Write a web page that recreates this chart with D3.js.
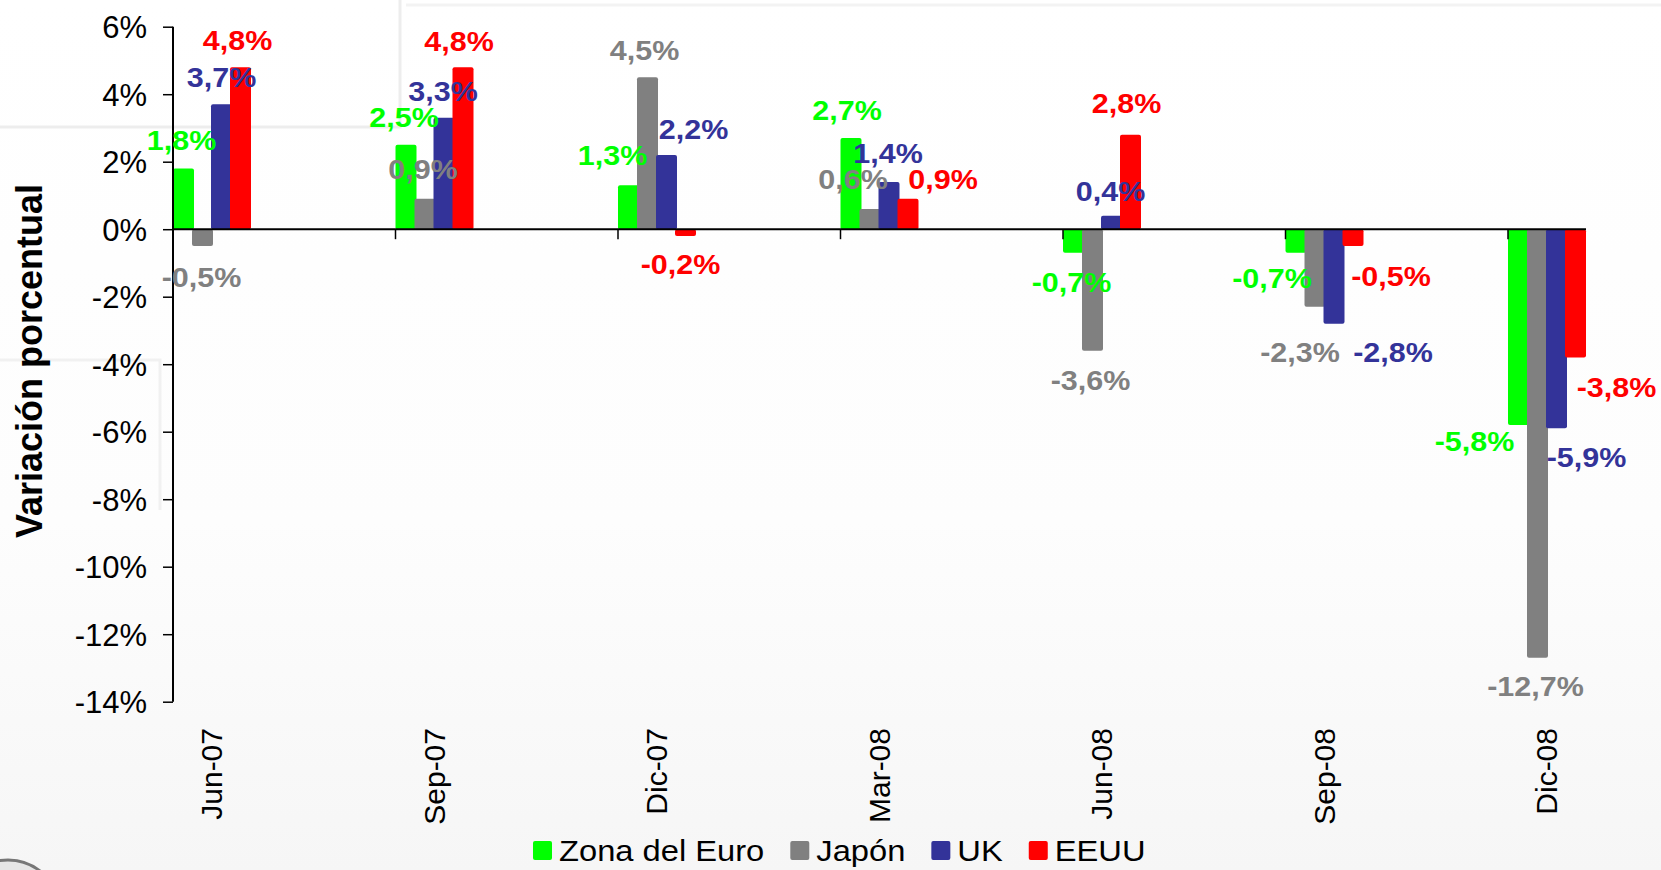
<!DOCTYPE html>
<html>
<head>
    <meta charset="utf-8">
    <title>Variación porcentual</title>
    <style>
    body { margin: 0; overflow: hidden; background: #fff; }
    text { font-family: 'Liberation Sans', Arial, sans-serif; }
    </style>
</head>
<body>

<script src="https://d3js.org/d3.v7.min.js"></script>
<script type="text/javascript">

// data
var categories = ["Jun-07", "Sep-07", "Dic-07", "Mar-08", "Jun-08", "Sep-08", "Dic-08"];
var seriesNames = ["Zona del Euro", "Japón", "UK", "EEUU"];
var euro  = [1.8, 2.5, 1.3, 2.7, -0.7, -0.7, -5.8];
var japon = [-0.5, 0.9, 4.5, 0.6, -3.6, -2.3, -12.7];
var uk    = [3.7, 3.3, 2.2, 1.4, 0.4, -2.8, -5.9];
var eeuu  = [4.8, 4.8, -0.2, 0.9, 2.8, -0.5, -3.8];
var yTicks = [-14, -12, -10, -8, -6, -4, -2, 0, 2, 4, 6];

var colors = ["#00ff00", "#808080", "#333399", "#ff0000"];

// hand nudges for the value labels (px), one row per series
var labelDx = [
    [-2, -2, -16, -4, -2, -24, -44],
    [-1, -2, -3, -17, -2, -15, -2],
    [0, -1, 27, -1, -1, 59, 30],
    [-3, -4, -5, 35, -4, 38, 41]
];
var labelDy = [
    [-1, 0, -3, -1, 0, -4, -13],
    [1, -2, 0, -2, 0, 16, -1],
    [0, 1, 2, -1, 3, -1, -1],
    [0, 1, -1, 8, -4, 0, 0]
];

var width = 1661, height = 870;
var left = 173, step = 222.5, groupW = 76;

var x = d3.scaleBand().domain(categories).range([left, left + step * categories.length]);
var x1 = d3.scaleBand().domain(seriesNames).range([0, groupW]);
var y = d3.scaleLinear().domain([-14, 6]).range([701.7, 26.7]);

var svg = d3.select("body")
    .append("svg")
    .attr("width", width)
    .attr("height", height);

// slide background
var grad = svg.append("defs").append("linearGradient")
    .attr("id", "bg").attr("x1", 0).attr("y1", 0).attr("x2", 0).attr("y2", 1);
grad.append("stop").attr("offset", "0%").attr("stop-color", "#ffffff");
grad.append("stop").attr("offset", "60%").attr("stop-color", "#fdfdfd");
grad.append("stop").attr("offset", "100%").attr("stop-color", "#f6f6f6");
svg.append("rect").attr("width", width).attr("height", height).attr("fill", "url(#bg)");

var deco = svg.append("g").attr("stroke", "#ededed").attr("stroke-width", 3).attr("fill", "none");
deco.append("path").attr("d", "M0,127H400V0");
deco.append("path").attr("d", "M406,5H1661").attr("stroke", "#f3f3f3");
deco.append("path").attr("d", "M0,360H160V510").attr("stroke", "#f1f1f1");
svg.append("circle").attr("cx", 8).attr("cy", 912).attr("r", 52)
    .attr("fill", "#e6e6e6").attr("stroke", "#777").attr("stroke-width", 3);

// bars
var series = [euro, japon, uk, eeuu].map(function(vals, i) {
    return categories.map(function(c, j) {
        return {cat: c, s: i, name: seriesNames[i], v: vals[j], j: j};
    });
});

var bw = x1.bandwidth() + 2;

series.forEach(function(rows, i) {
    svg.append("g").selectAll("rect")
        .data(rows)
        .join("rect")
        .attr("x", function(d) { return x(d.cat) + x1(d.name); })
        .attr("y", function(d) { return y(Math.max(0, d.v)); })
        .attr("width", bw)
        .attr("height", function(d) { return Math.abs(y(d.v) - y(0)); })
        .attr("rx", 2)
        .attr("fill", colors[i]);
});

// y axis
var yAxis = svg.append("g")
    .attr("transform", "translate(" + left + ",0)")
    .call(d3.axisLeft(y).tickValues(yTicks).tickSize(10).tickPadding(16)
        .tickFormat(function(d) { return d + "%"; }));
yAxis.select(".domain").attr("stroke", "#000").attr("stroke-width", 2)
    .attr("d", "M0," + y(6) + "V" + y(-14));
yAxis.selectAll(".tick line").attr("stroke", "#000").attr("stroke-width", 1.5);
yAxis.selectAll(".tick text")
    .attr("font-size", 31)
    .attr("fill", "#000")
    .attr("dy", "0.36em");

// zero line + category ticks
var right = x(categories[categories.length - 1]) + groupW + 2;
svg.append("line")
    .attr("x1", left).attr("x2", right)
    .attr("y1", y(0)).attr("y2", y(0))
    .attr("stroke", "#000").attr("stroke-width", 2);
svg.append("g").selectAll("line")
    .data(categories)
    .join("line")
    .attr("x1", function(d) { return x(d); })
    .attr("x2", function(d) { return x(d); })
    .attr("y1", y(0)).attr("y2", y(0) + 10)
    .attr("stroke", "#000").attr("stroke-width", 1.5);

// category labels
svg.append("g").selectAll("text")
    .data(categories)
    .join("text")
    .attr("transform", function(d) { return "translate(" + (x(d) + 49) + ",728) rotate(-90)"; })
    .attr("text-anchor", "end")
    .attr("font-size", 30)
    .attr("fill", "#000")
    .text(function(d) { return d; });

// y title
svg.append("text")
    .attr("transform", "translate(42,361) rotate(-90)")
    .attr("text-anchor", "middle")
    .attr("font-size", 36)
    .attr("font-weight", "bold")
    .attr("fill", "#000")
    .text("Variación porcentual");

// value labels
var fmt = function(v) { return d3.format(".1f")(v).replace(".", ",").replace("−", "-") + "%"; };

series.forEach(function(rows, i) {
    svg.append("g").selectAll("text")
        .data(rows)
        .join("text")
        .attr("transform", function(d) {
            var cx = x(d.cat) + x1(d.name) + bw / 2 + labelDx[i][d.j];
            var cy = d.v >= 0 ? y(d.v) - 27 : y(d.v) + 30;
            cy += labelDy[i][d.j] + 9.5;
            return "translate(" + cx + "," + cy + ") scale(1.13,1)";
        })
        .attr("text-anchor", "middle")
        .attr("font-size", 27)
        .attr("font-weight", "bold")
        .attr("fill", colors[i])
        .text(function(d) { return fmt(d.v); });
});

// legend
var legend = svg.append("g");
var lx = 533;
seriesNames.forEach(function(name, i) {
    legend.append("rect")
        .attr("x", lx).attr("y", 841)
        .attr("width", 19).attr("height", 19)
        .attr("rx", 2)
        .attr("fill", colors[i]);
    var t = legend.append("text")
        .attr("transform", "translate(" + (lx + 26) + ",861) scale(1.09,1)")
        .attr("font-size", 30)
        .attr("fill", "#000")
        .text(name);
    lx += 26 + t.node().getComputedTextLength() * 1.09 + 26;
});

</script>

</body>
</html>
